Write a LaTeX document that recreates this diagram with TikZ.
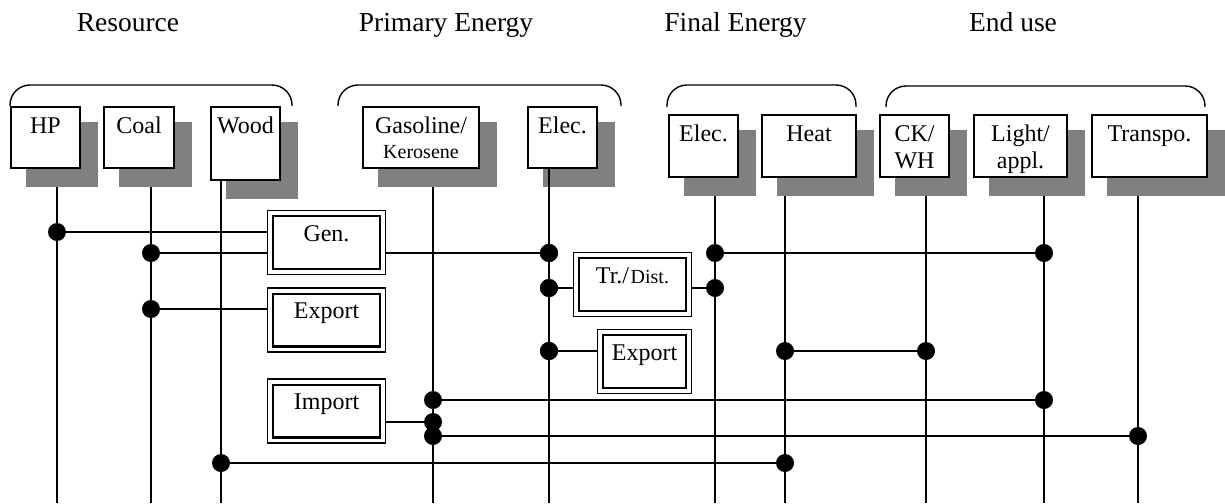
\documentclass[tikz,border=0pt]{standalone}
\usepackage{fontspec}
\setmainfont{Liberation Serif}
\usetikzlibrary{calc}
\pgfdeclarelayer{bg}
\pgfdeclarelayer{shd}
\pgfsetlayers{bg,shd,main}
\definecolor{shadowgray}{HTML}{808080}
\begin{document}
\begin{tikzpicture}[x=0.5pt,y=-0.5pt,
  line width=0.7pt,
  head/.style={anchor=base, inner sep=0pt, font=\fontsize{13.75}{16}\selectfont},
  box/.style 2 args={draw, fill=white, line width=0.85pt, anchor=north west, inner sep=0pt,
    minimum width=#1*0.5pt-0.85pt, minimum height=#2*0.5pt-0.85pt},
  txt/.style={label={[anchor=north, yshift=-5.3pt, align=center, inner sep=0pt,
    font=\fontsize{12}{13.5}\selectfont]north:#1}},
  dbox/.style 2 args={draw, fill=white, line width=1.15pt, inner sep=0pt, outer sep=3.1pt,
    minimum width=#1*0.5pt-1.15pt, minimum height=#2*0.5pt-1.15pt},
  dtxt/.style={label={[anchor=north, yshift=-7.6pt, align=center, inner sep=0pt,
    font=\fontsize{12}{13.5}\selectfont]north:#1}},
  frame/.style={draw, fill=white, line width=0.7pt},
  shadowbox/.style={fill=shadowgray},
  bracket/.style={line width=0.7pt, rounded corners=10pt},
  dot/.style={circle, fill=black, inner sep=0pt, minimum size=9pt},
  conn/.style={line width=0.7pt}
]
\useasboundingbox (0,0) rectangle (1225,503);

% headings
\node[head] (hres) at (128,32) {Resource};
\node[head] (hpri) at (446,32) {Primary Energy};
\node[head] (hfin) at (735.5,32) {Final Energy};
\node[head] (hend) at (1013,32) {End use};

% brackets
\draw[bracket] (10,106) -- (10,85) -- (292,85) -- (292,106);
\draw[bracket] (338,106) -- (338,85) -- (621,85) -- (621,106);
\draw[bracket] (667,107) -- (667,85) -- (856,85) -- (856,107);
\draw[bracket] (886,107) -- (886,86) -- (1205,86) -- (1205,107);

% boxes
\node[box={71}{63}, txt=HP] (hp) at (10,106) {};
\node[box={72}{63}, txt=Coal] (coal) at (103,106) {};
\node[box={71}{75}, txt=Wood] (wood) at (210,106) {};
\node[box={118}{63}, txt={Gasoline/\\[-1pt]{\fontsize{10}{12}\selectfont Kerosene}}] (gas) at (362,106) {};
\node[box={71}{63}, txt={Elec.}] (elp) at (527,106) {};
\node[box={71}{64}, txt={Elec.}] (elf) at (668,114) {};
\node[box={96}{64}, txt=Heat] (heat) at (761,114) {};
\node[box={71}{64}, txt={CK/\\WH}] (ck) at (879,114) {};
\node[box={95}{64}, txt={Light/\\appl.}] (light) at (973,114) {};
\node[box={117}{64}, txt={Transpo.}] (trans) at (1091,114) {};

% shadows
\begin{pgfonlayer}{shd}
\foreach \n in {hp,coal,wood,gas,elp,elf,heat,ck,light,trans}
  \fill[shadowbox] ($(\n.north west)+(15.5,15.5)$) rectangle ($(\n.south east)+(17,17.5)$);
\end{pgfonlayer}

% double boxes
\node[dbox={109}{55}, dtxt={Gen.}] (gen) at (326.5,242.5) {};
\node[dbox={109}{55}, dtxt={Export}] (exa) at (326.5,320) {};
\node[dbox={109}{55}, dtxt={Import}] (imp) at (326.5,411) {};
\node[dbox={109}{55}, dtxt={Tr./\kern0.8pt{\fontsize{10}{12}\selectfont Dist.}}] (trd) at (632.5,284.5) {};
\node[dbox={85}{55}, dtxt={Export}] (exb) at (644.5,361.5) {};
\begin{pgfonlayer}{shd}
\foreach \n in {gen,exa,imp,trd,exb}
  \draw[frame] ($(\n.north west)+(0.7,0.7)$) rectangle ($(\n.south east)+(-0.7,-0.7)$);
\end{pgfonlayer}

% junction dots
\node[dot] (d1) at (57,232) {};
\node[dot] (d2) at (151,253) {};
\node[dot] (d3) at (151,309) {};
\node[dot] (d4) at (549,253) {};
\node[dot] (d5) at (549,288) {};
\node[dot] (d6) at (549,351) {};
\node[dot] (d7) at (715,253) {};
\node[dot] (d8) at (715,288) {};
\node[dot] (d9) at (1044,253) {};
\node[dot] (d10) at (785,351) {};
\node[dot] (d11) at (926,351) {};
\node[dot] (d12) at (433,400) {};
\node[dot] (d13) at (433,422) {};
\node[dot] (d14) at (433,436) {};
\node[dot] (d15) at (1044,400) {};
\node[dot] (d16) at (1138,436) {};
\node[dot] (d17) at (221,463) {};
\node[dot] (d18) at (785,463) {};
\coordinate (bot) at (0,503);

\begin{pgfonlayer}{bg}
% vertical lines
\draw[conn] (hp.south -| d1) -- (d1 |- bot);
\draw[conn] (coal.south -| d2) -- (d2 |- bot);
\draw[conn] (wood.south -| d17) -- (d17 |- bot);
\draw[conn] (gas.south -| d12) -- (d12 |- bot);
\draw[conn] (elf.south -| d7) -- (d7 |- bot);
\draw[conn] (heat.south -| d10) -- (d10 |- bot);
\draw[conn] (ck.south -| d11) -- (d11 |- bot);
\draw[conn] (light.south -| d9) -- (d9 |- bot);
\draw[conn] (trans.south -| d16) -- (d16 |- bot);
% horizontal lines
\draw[conn] (d1) -- (d1 -| gen.west);
\draw[conn] (d2) -- (d2 -| gen.west);
\draw[conn] (d2 -| gen.east) -- (d4);
\draw[conn] (d3) -- (d3 -| exa.west);
\draw[conn] (d5) -- (d5 -| trd.west);
\draw[conn] (d5 -| trd.east) -- (d8);
\draw[conn] (d7) -- (d9);
\draw[conn] (d6) -- (d6 -| exb.west);
\draw[conn] (d10) -- (d11);
\draw[conn] (d12) -- (d15);
\draw[conn] (imp.east |- d13) -- (d13);
\draw[conn] (d14) -- (d16);
\draw[conn] (d17) -- (d18);
\end{pgfonlayer}
% primary electricity line runs over its shadow
\draw[conn] (elp.south -| d4) -- (d4 |- bot);
\node[dot] at (d4) {};
\node[dot] at (d5) {};
\node[dot] at (d6) {};
\end{tikzpicture}
\end{document}
